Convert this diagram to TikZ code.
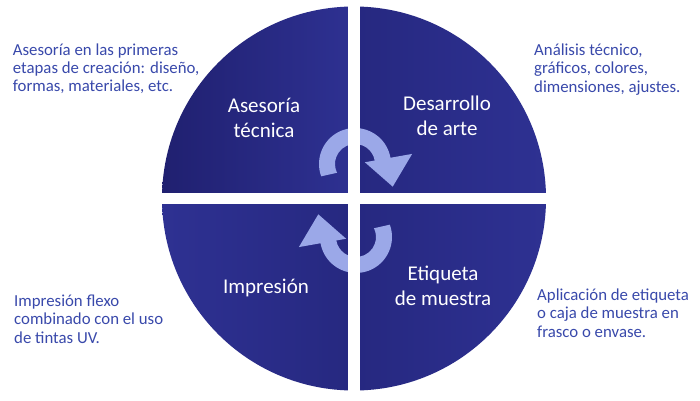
\documentclass[tikz,border=0pt]{standalone}
\usepackage{fontspec}
\setmainfont{Carlito}
\usetikzlibrary{calc}
\definecolor{qblue}{RGB}{46,49,146}
\definecolor{qdark}{RGB}{32,32,112}
\definecolor{qmid}{RGB}{38,40,128}
\definecolor{arrowblue}{RGB}{155,168,232}
\definecolor{txtblue}{RGB}{57,73,171}
\begin{document}
\begin{tikzpicture}[x=1pt,y=1pt,
  desc/.style={text=txtblue, font=\fontsize{16.8}{18.3}\selectfont, align=left, inner sep=0pt, anchor=base west},
  lab/.style={text=white, font=\fontsize{21}{24.5}\selectfont, align=center, inner sep=0pt, anchor=base},
  cyc/.style={fill=arrowblue, draw=none},
  gap/.style={draw=white, line width=11.5pt}]
\useasboundingbox (0,0) rectangle (700,400);
\fill[white] (0,0) rectangle (700,400);
\coordinate (O) at (354,201.5);
% quadrants
\shade[left color=qdark, right color=qblue] (O) -- ++(180:192pt) arc[start angle=180,end angle=90,radius=192pt] -- cycle;
\shade[left color=qmid, right color=qblue] (O) -- ++(90:192pt) arc[start angle=90,end angle=0,radius=192pt] -- cycle;
\shade[left color=qblue, right color=qmid] (O) -- ++(180:192pt) arc[start angle=180,end angle=270,radius=192pt] -- cycle;
\shade[left color=qmid, right color=qblue] (O) -- ++(270:192pt) arc[start angle=270,end angle=360,radius=192pt] -- cycle;
% cycle arrows
\coordinate (C1) at (355,236);
\coordinate (C2) at (356,163);
\fill[cyc] ($(C1)+(200:36pt)$) arc[start angle=200,end angle=10,radius=36pt]
  -- ($(C1)+(10:58pt)$) -- ($(C1)+(-31:44pt)$) -- ($(C1)+(10:10pt)$) -- ($(C1)+(10:20pt)$)
  arc[start angle=10,end angle=206,radius=20pt] -- cycle;
\fill[cyc] ($(C2)+(20:36pt)$) arc[start angle=20,end angle=-170,radius=36pt]
  -- ($(C2)+(190:58pt)$) -- ($(C2)+(149:44pt)$) -- ($(C2)+(190:10pt)$) -- ($(C2)+(190:20pt)$)
  arc[start angle=190,end angle=386,radius=20pt] -- cycle;
% white cross
\draw[gap] ($(O)+(0,-200)$) -- ($(O)+(0,200)$);
\draw[gap, line width=10.7pt] ($(O)+(-200,0)$) -- ($(O)+(200,0)$);
% labels (anchor = baseline of last line)
\node[lab] (l1) at (264,263) {Asesoría\\técnica};
\node[lab] (l2) at (447,265) {Desarrollo\\de arte};
\node[lab] (l3) at (266,107) {Impresión};
\node[lab] (l4) at (443,95) {Etiqueta\\de muestra};
% descriptions
\node[desc] (d1) at (12.7,308.3) {Asesoría en las primeras\\etapas de creación: diseño,\\formas, materiales, etc.};
\node[desc] (d2) at (534,308) {Análisis técnico,\\gráficos, colores,\\dimensiones, ajustes.};
\node[desc] (d3) at (14,57) {Impresión flexo\\combinado con el uso\\de tintas UV.};
\node[desc] (d4) at (537,63) {Aplicación de etiqueta\\o caja de muestra en\\frasco o envase.};
\end{tikzpicture}
\end{document}
